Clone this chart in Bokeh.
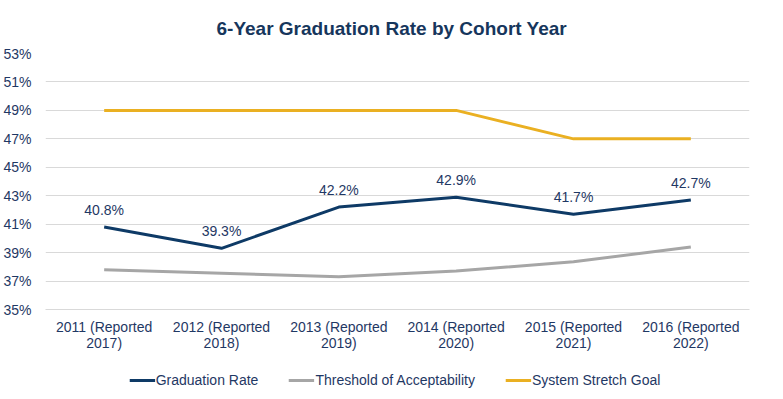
from bokeh.plotting import figure
from bokeh.models import (ColumnDataSource, FixedTicker, Legend, LegendItem, Range1d, Title,
                          LinearAxis)
from bokeh.layouts import column
from bokeh.embed import file_html
from bokeh.resources import INLINE
from bokeh.core.properties import value

cohort_line1 = ["2011 (Reported", "2012 (Reported", "2013 (Reported",
                "2014 (Reported", "2015 (Reported", "2016 (Reported"]
cohort_line2 = ["2017)", "2018)", "2019)", "2020)", "2021)", "2022)"]
graduation_rate = [40.8, 39.3, 42.2, 42.9, 41.7, 42.7]
threshold = [37.8, 37.55, 37.3, 37.7, 38.35, 39.4]
stretch_goal = [49, 49, 49, 49, 47, 47]
y_ticks = [35, 37, 39, 41, 43, 45, 47, 49, 51, 53]
series_names = ["Graduation Rate", "Threshold of Acceptability", "System Stretch Goal"]

x = list(range(len(cohort_line1)))
FONT = "Liberation Sans"
NAVY = "#0E3A66"
GRAY = "#A6A6A6"
GOLD = "#EAB022"
TXT = "#1F3864"

p = figure(frame_width=704, frame_height=256, output_backend="svg", toolbar_location=None,
           x_range=Range1d(-0.5, 5.5), y_range=Range1d(35, 53),
           min_border_left=40, min_border_right=23, min_border_top=10, min_border_bottom=0,
           x_axis_location=None)
p.outline_line_color = None
p.background_fill_color = "white"

src = ColumnDataSource(dict(x=x, grad=graduation_rate, thr=threshold, goal=stretch_goal,
                            lab=[f"{v:.1f}%" for v in graduation_rate]))

p.line("x", "goal", source=src, line_color=GOLD, line_width=3)
p.line("x", "thr", source=src, line_color=GRAY, line_width=3)
p.line("x", "grad", source=src, line_color=NAVY, line_width=3)
p.text("x", "grad", text="lab", source=src, text_align="center", text_baseline="bottom",
       y_offset=-9, text_font=value(FONT), text_font_size="14px", text_color=TXT)

p.title = Title(text="6-Year Graduation Rate by Cohort Year", align="left", offset=171,
                text_font=FONT, text_font_size="19px", text_font_style="bold",
                text_color="#16365C", standoff=30)

p.xgrid.grid_line_color = None
p.ygrid.grid_line_color = "#D9D9D9"
p.ygrid.ticker = FixedTicker(ticks=y_ticks)

p.yaxis.ticker = FixedTicker(ticks=y_ticks)
p.yaxis.major_label_overrides = {t: f"{t}%" for t in y_ticks}
p.yaxis.axis_line_color = None
p.yaxis.major_tick_line_color = None
p.yaxis.minor_tick_line_color = None
p.yaxis.major_label_standoff = 8
p.yaxis.major_label_text_font = FONT
p.yaxis.major_label_text_font_size = "14px"
p.yaxis.major_label_text_color = TXT


def cat_axis(labels, standoff, line_color):
    ax = LinearAxis(ticker=FixedTicker(ticks=x),
                    major_label_overrides={i: s for i, s in enumerate(labels)},
                    axis_line_color=line_color, major_tick_line_color=None,
                    minor_tick_line_color=None, major_tick_out=0, major_tick_in=0,
                    major_label_standoff=standoff, major_label_text_font=FONT,
                    major_label_text_font_size="14px", major_label_text_color=TXT)
    return ax


p.add_layout(cat_axis(cohort_line1, 9, "#D9D9D9"), "below")
p.add_layout(cat_axis(cohort_line2, -3, None), "below")

# legend strip below the chart; its lines lie outside the visible ranges
leg = figure(width=767, height=54, output_backend="svg", toolbar_location=None,
             x_range=Range1d(100, 101), y_range=Range1d(100, 101),
             x_axis_location=None, y_axis_location=None,
             min_border_left=0, min_border_right=0, min_border_top=0, min_border_bottom=0)
leg.outline_line_color = None
leg.xgrid.grid_line_color = None
leg.ygrid.grid_line_color = None
lr = [leg.line(x=x, y=series, line_color=c, line_width=3)
      for series, c in zip((graduation_rate, threshold, stretch_goal), (NAVY, GRAY, GOLD))]
legend = Legend(items=[LegendItem(label=n, renderers=[r]) for n, r in zip(series_names, lr)],
                orientation="horizontal", location="center", border_line_color=None,
                background_fill_alpha=0,
                label_text_font=FONT, label_text_font_size="14px", label_text_color=TXT,
                glyph_width=26, label_standoff=1, spacing=30, padding=2, margin=0)
leg.add_layout(legend, "center")

open("out.html", "w").write(file_html(column(p, leg), INLINE))
